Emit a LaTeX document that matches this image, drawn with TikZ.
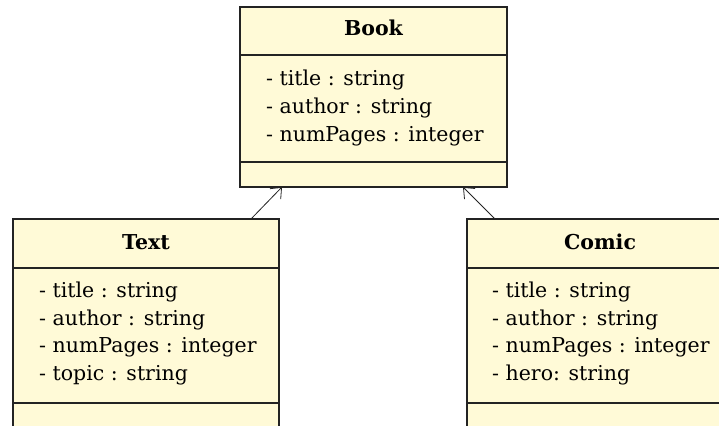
\documentclass[tikz,border=0pt]{standalone}
\usepackage{fontspec}
\setmainfont{DejaVu Serif}
\usetikzlibrary{arrows.meta,calc}
\definecolor{umlfill}{RGB}{255,250,215}
\definecolor{umlline}{RGB}{35,35,35}
\begin{document}
\begin{tikzpicture}[x=1pt,y=1pt,
  classbox/.style={draw=umlline, line width=1.1pt, fill=umlfill, rectangle, inner sep=0pt, outer sep=0pt},
  cname/.style={font=\fontsize{20.5}{24}\selectfont\bfseries, anchor=base, inner sep=0pt, text=black},
  attr/.style={font=\fontsize{20.5}{24}\selectfont, anchor=base west, inner sep=0pt, text=black},
  divider/.style={draw=umlline, line width=1.1pt},
  inherit/.style={draw=umlline, line width=0.8pt, -{Straight Barb[length=9pt,width=15pt]}}]
\useasboundingbox (0,0) rectangle (719,425);
\clip (0,0) rectangle (719,425);

% Book
\node[classbox, minimum width=267pt, minimum height=180pt] (book) at (373.5,328) {};
\draw[divider] ($(book.north west)+(0,-48)$) -- ($(book.north east)+(0,-48)$);
\draw[divider] ($(book.south west)+(0,25)$) -- ($(book.south east)+(0,25)$);
\node[cname] (bookname) at (373.5,389) {Book};
\node[attr] (b1) at (266,339) {- title : string};
\node[attr] (b2) at (266,311.4) {- author : string};
\node[attr] (b3) at (266,283.8) {- numPages : integer};

% Text
\node[classbox, minimum width=266pt, minimum height=236pt] (text) at (146,88) {};
\draw[divider] ($(text.north west)+(0,-49)$) -- ($(text.north east)+(0,-49)$);
\draw[divider] ($(text.north west)+(0,-184)$) -- ($(text.north east)+(0,-184)$);
\node[cname] (textname) at (146,175) {Text};
\node[attr] (t1) at (39,127.3) {- title : string};
\node[attr] (t2) at (39,99.7) {- author : string};
\node[attr] (t3) at (39,72.1) {- numPages : integer};
\node[attr] (t4) at (39,44.5) {- topic : string};

% Comic
\node[classbox, minimum width=266pt, minimum height=236pt] (comic) at (600,88) {};
\draw[divider] ($(comic.north west)+(0,-49)$) -- ($(comic.north east)+(0,-49)$);
\draw[divider] ($(comic.north west)+(0,-184)$) -- ($(comic.north east)+(0,-184)$);
\node[cname] (comicname) at (600,175) {Comic};
\node[attr] (c1) at (492,127.3) {- title : string};
\node[attr] (c2) at (492,99.7) {- author : string};
\node[attr] (c3) at (492,72.1) {- numPages : integer};
\node[attr] (c4) at (492,44.5) {- hero: string};

% inheritance arrows
\coordinate (textTop) at ($(text.north west)+(238,0)$);
\coordinate (bookL) at ($(book.south west)+(42,0)$);
\coordinate (comicTop) at ($(comic.north west)+(28,0)$);
\coordinate (bookR) at ($(book.south east)+(-44,0)$);
\draw[inherit] (textTop) -- (bookL);
\draw[inherit] (comicTop) -- (bookR);
\end{tikzpicture}
\end{document}
